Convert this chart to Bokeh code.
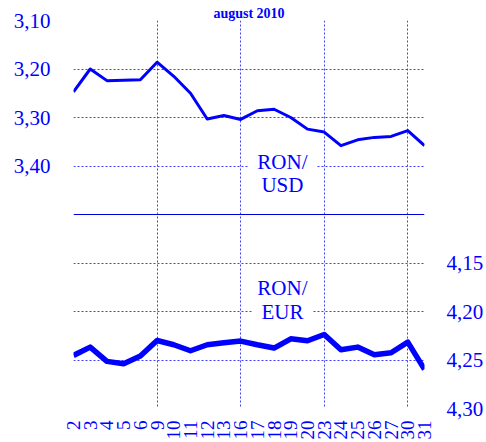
import math
from bokeh.plotting import figure
from bokeh.models import (Range1d, LinearAxis, FixedTicker, Span, Label, Grid,
                          CustomJSTickFormatter)
from bokeh.embed import file_html
from bokeh.resources import INLINE

# ---- data ----
days = ["2", "3", "4", "5", "6", "9", "10", "11", "12", "13", "16", "17",
        "18", "19", "20", "23", "24", "25", "26", "27", "30", "31"]
ron_usd = [3.247, 3.200, 3.224, 3.223, 3.222, 3.186, 3.215, 3.250, 3.303, 3.296,
           3.304, 3.286, 3.283, 3.300, 3.324, 3.330, 3.358, 3.346, 3.341, 3.339,
           3.327, 3.358]
ron_eur = [4.2453, 4.2367, 4.2514, 4.2538, 4.2459, 4.2299, 4.2343, 4.2405, 4.2343,
           4.2323, 4.2305, 4.2343, 4.2377, 4.2282, 4.2302, 4.2237, 4.2394, 4.2367,
           4.2446, 4.2425, 4.2316, 4.2597]
usd_ticks = [3.10, 3.20, 3.30, 3.40]
eur_ticks = [4.15, 4.20, 4.25, 4.30]
usd_range = (3.10, 3.90)
eur_range = (3.90, 4.30)
divider = 3.50
grid_days = ["2", "9", "16", "23", "30"]
title_text = "august 2010"

BLUE = "#0000ff"
GRID = "#4040ff"
FONT = "Liberation Serif"

x = list(range(len(days)))

p = figure(width=486, height=442, output_backend="svg", toolbar_location=None,
           x_range=Range1d(0, len(days) - 1),
           y_range=Range1d(start=usd_range[1], end=usd_range[0]),
           min_border_left=73, min_border_right=61, min_border_top=20,
           min_border_bottom=32, outline_line_color=None,
           title=title_text)
p.title.align = "center"
p.title.text_font = FONT
p.title.text_font_size = "14px"
p.title.text_font_style = "bold"
p.title.text_color = BLUE
p.title.standoff = 0
p.title.offset = 0
p.extra_y_ranges = {"eur": Range1d(start=eur_range[1], end=eur_range[0])}

comma_fmt = CustomJSTickFormatter(code="return tick.toFixed(2).replace('.', ',');")

# left axis
la = p.yaxis[0]
la.ticker = FixedTicker(ticks=usd_ticks)
la.formatter = comma_fmt
# right axis
ra = LinearAxis(y_range_name="eur", ticker=FixedTicker(ticks=eur_ticks),
                formatter=comma_fmt)
p.add_layout(ra, "right")
xa = p.xaxis[0]
for ax in (la, ra, xa):
    ax.axis_line_color = None
    ax.major_tick_line_color = None
    ax.minor_tick_line_color = None
    ax.major_tick_out = 0
    ax.major_tick_in = 0
    ax.minor_tick_out = 0
    ax.minor_tick_in = 0
    ax.major_label_text_font = FONT
    ax.major_label_text_color = BLUE
for ax in (la, ra):
    ax.major_label_text_font_size = "21px"
la.major_label_standoff = 23
ra.major_label_standoff = 22

# x axis
xa.ticker = FixedTicker(ticks=x)
xa.major_label_overrides = {i: d for i, d in enumerate(days)}
xa.major_label_orientation = math.pi / 2
xa.major_label_text_font_size = "19px"
xa.major_label_standoff = 12

# grids
p.xgrid.ticker = FixedTicker(ticks=[days.index(d) for d in grid_days])
p.ygrid.ticker = FixedTicker(ticks=usd_ticks)
for g in (p.xgrid[0], p.ygrid[0]):
    g.grid_line_color = GRID
    g.grid_line_dash = "2 2"
    g.grid_line_width = 1
eg = Grid(dimension=1, y_range_name="eur", ticker=FixedTicker(ticks=eur_ticks),
          grid_line_color=GRID, grid_line_dash="2 2", grid_line_width=1)
p.add_layout(eg, "center")

p.add_layout(Span(location=divider, dimension="width", line_color="#0000dd",
                  line_width=1.2))

# series
p.line(x, ron_usd, line_color=BLUE, line_width=3, line_join="round")
p.line(x, ron_eur, y_range_name="eur", line_color=BLUE, line_width=5.5,
       line_join="round")

# text labels
def add_label(xv, yv, txt, rng="default", bg=False):
    kw = dict(background_fill_color="white",
              padding=dict(left=9, right=9, top=0, bottom=0)) if bg else {}
    p.add_layout(Label(x=xv, y=yv, text=txt, y_range_name=rng,
                       text_align="center", text_baseline="middle",
                       text_font=FONT, text_font_size="21px", text_color=BLUE,
                       **kw))

add_label(12.5, 3.3923, "RON/", bg=True)
add_label(12.5, 3.4395, "USD")
add_label(12.5, 4.1754, "RON/", "eur")
add_label(12.5, 4.2000, "EUR", "eur", bg=True)

open("out.html", "w").write(file_html(p, INLINE))
